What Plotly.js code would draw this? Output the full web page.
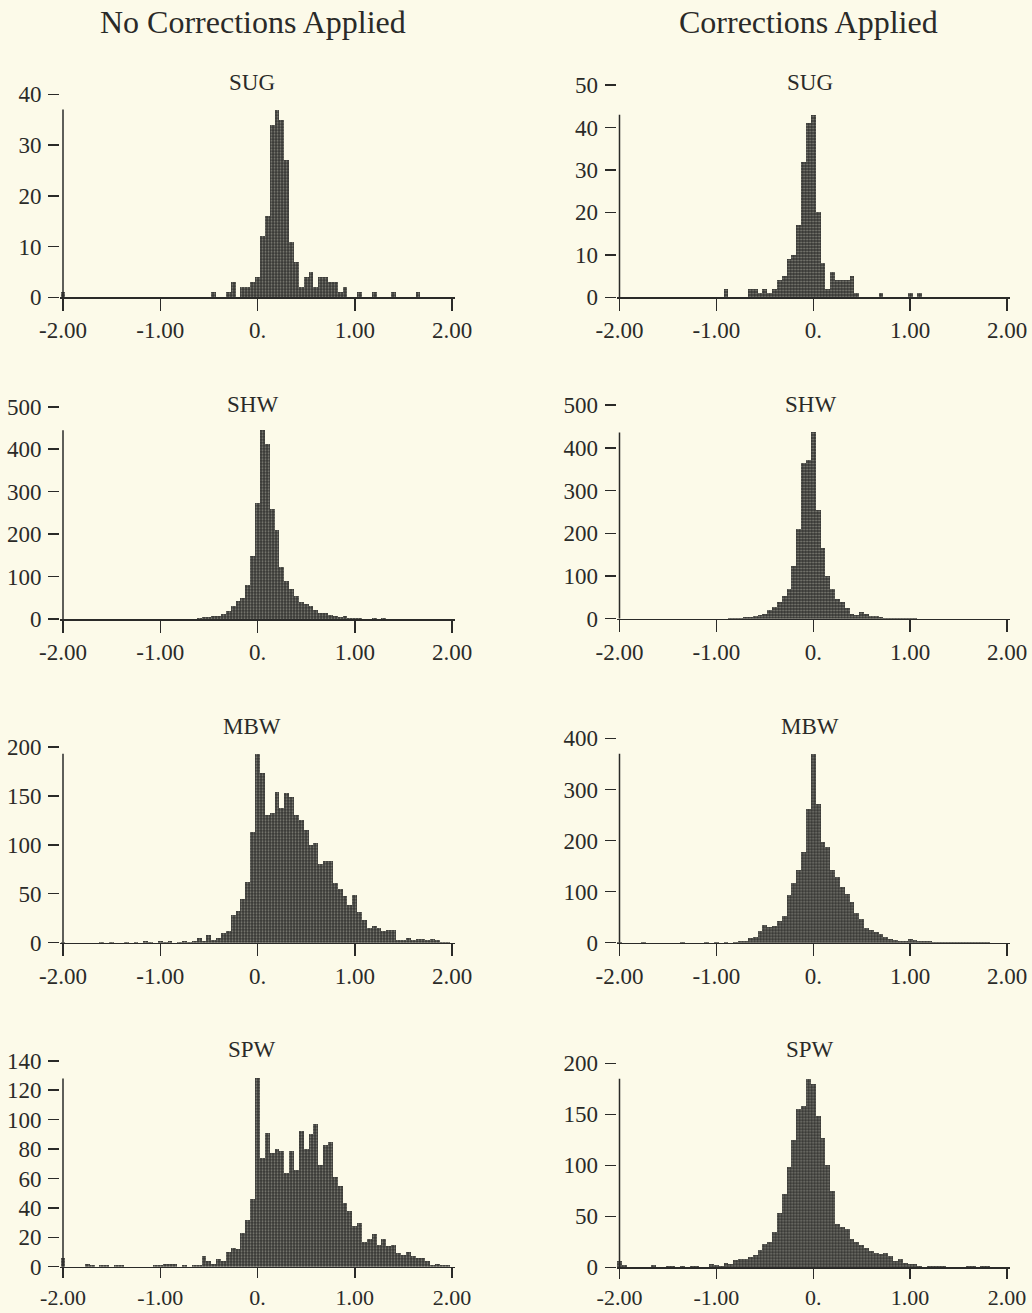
<!DOCTYPE html>
<html><head><meta charset="utf-8">
<script src="https://cdn.plot.ly/plotly-3.0.1.min.js"></script>
<style>html,body{margin:0;padding:0;background:#fcfae9;} #chart{width:1032px;height:1313px;}</style>
</head><body><div id="chart"></div>
<script>
// Bin centres (width 0.05) from -2.00 to 2.00
const binCenters = [
-2.00,-1.95,-1.90,-1.85,-1.80,-1.75,-1.70,-1.65,-1.60,-1.55,
-1.50,-1.45,-1.40,-1.35,-1.30,-1.25,-1.20,-1.15,-1.10,-1.05,
-1.00,-0.95,-0.90,-0.85,-0.80,-0.75,-0.70,-0.65,-0.60,-0.55,
-0.50,-0.45,-0.40,-0.35,-0.30,-0.25,-0.20,-0.15,-0.10,-0.05,
0.00,0.05,0.10,0.15,0.20,0.25,0.30,0.35,0.40,0.45,
0.50,0.55,0.60,0.65,0.70,0.75,0.80,0.85,0.90,0.95,
1.00,1.05,1.10,1.15,1.20,1.25,1.30,1.35,1.40,1.45,
1.50,1.55,1.60,1.65,1.70,1.75,1.80,1.85,1.90,1.95,
2.00];

const xTickVals = [-2, -1, 0, 1, 2];
const xTickText = ['-2.00', '-1.00', '0.', '1.00', '2.00'];
const columnTitles = ['No Corrections Applied', 'Corrections Applied'];
const stationNames = ['SUG', 'SHW', 'MBW', 'SPW'];

const sugNo = [
1,0,0,0,0,0,0,0,0,0,
0,0,0,0,0,0,0,0,0,0,
0,0,0,0,0,0,0,0,0,0,
0,1,0,0,1,3,0,2,2,3,
4,12,16,34,37,35,27,11,7,2,
4,5,2,4,4,3,3,1,2,0,
0,1,0,0,1,0,0,0,1,0,
0,0,0,1,0,0,0,0,0,0,
0];
const sugCor = [
0,0,0,0,0,0,0,0,0,0,
0,0,0,0,0,0,0,0,0,0,
0,0,2,0,0,0,0,2,2,1,
2,1,2,4,5,9,10,17,32,41,
43,20,8,2,6,4,4,4,5,1,
0,0,0,0,1,0,0,0,0,0,
1,0,1,0,0,0,0,0,0,0,
0,0,0,0,0,0,0,0,0,0,
0];
const shwNo = [
0,0,0,0,0,0,0,0,0,0,
0,0,0,0,0,0,0,0,0,0,
0,0,0,0,0,0,0,1,2,4,
5,6,8,12,20,30,43,50,80,149,
273,445,412,260,210,122,90,70,55,40,
36,30,22,15,14,10,7,5,6,3,
2,2,1,1,2,1,2,1,1,0,
0,0,0,0,0,0,0,0,0,0,
0];
const shwCor = [
0,0,0,0,0,0,0,0,0,0,
0,0,0,0,0,0,0,0,0,0,
0,0,0,1,2,2,3,5,7,9,
12,20,28,40,52,70,123,210,364,371,
436,255,166,101,70,47,39,25,12,8,
15,12,6,6,3,2,1,1,2,2,
1,1,0,0,0,0,0,0,0,0,
0,0,0,0,0,0,0,0,0,0,
0];
const mbwNo = [
1,0,0,0,0,0,0,0,1,0,
1,0,0,1,0,1,0,2,1,0,
2,1,2,0,1,2,1,2,5,2,
8,3,5,10,12,28,32,45,62,113,
193,173,130,132,154,138,153,149,130,125,
115,100,102,80,83,83,61,55,48,39,
49,31,23,15,17,15,12,13,13,3,
3,5,3,4,4,3,4,3,1,1,
0];
const mbwCor = [
2,0,0,0,0,1,0,0,0,0,
0,0,0,1,0,0,0,0,1,0,
1,0,2,0,2,4,3,10,12,23,
34,30,33,42,53,93,117,143,177,262,
370,271,198,188,142,129,110,95,80,58,
47,28,24,20,17,12,8,5,4,4,
7,5,3,4,3,2,2,2,1,1,
1,1,1,1,1,2,1,0,0,0,
0];
const spwNo = [
6,0,0,0,0,2,1,0,1,1,
0,1,1,0,0,0,0,0,0,1,
1,2,2,2,0,1,0,1,1,7,
4,2,5,4,10,13,12,23,32,46,
128,74,91,77,80,79,64,79,66,92,
80,90,97,69,83,85,61,55,43,38,
28,30,17,19,22,15,19,14,15,9,
8,10,7,6,6,4,1,2,1,1,
0];
const spwCor = [
6,2,0,0,0,0,0,2,0,0,
1,1,0,1,0,1,1,0,0,3,
2,1,4,3,7,8,8,10,12,17,
23,25,35,53,72,98,125,155,158,185,
180,148,127,100,75,42,40,38,28,25,
22,19,16,14,13,14,11,6,8,4,
3,3,1,0,1,1,1,1,0,0,
0,0,1,1,0,1,1,0,0,0,
0];

// y-axis top tick and step per panel
const yTops  = [40, 50, 500, 500, 200, 400, 140, 200];
const ySteps = [10, 10, 100, 100, 50, 100, 20, 50];

const W = 1032, H = 1313;
const colPx = [{a:63, b:452, title:253, name:252}, {a:619.5, b:1007, title:808, name:810}];
const rowPx = [
  [{zero:297.3, top:94.3}, {zero:297.3, top:85}],
  [{zero:619, top:406.7}, {zero:618.7, top:405}],
  [{zero:942.7, top:746.7}, {zero:942.7, top:738.3}],
  [{zero:1266.7, top:1060.7}, {zero:1267.3, top:1063.3}]
];
const namePy = [82, 404, 726, 1049];

const panelData = [sugNo, sugCor, shwNo, shwCor, mbwNo, mbwCor, spwNo, spwCor];

const FONT = '"Liberation Serif", "Times New Roman", serif';
const INK = '#2a2a28';
const traces = [], shapes = [], annotations = [];
const layout = {
  width: W, height: H, margin: {l:0, r:0, t:0, b:0},
  paper_bgcolor: '#fcfae9', plot_bgcolor: 'rgba(0,0,0,0)',
  showlegend: false, bargap: 0, font: {family: FONT, color: INK},
  shapes: shapes, annotations: annotations
};

const xPad = 0.03;
for (let k = 0; k < 8; k++) {
  const row = Math.floor(k / 2), col = k % 2;
  const sfx = k === 0 ? '' : String(k + 1);
  const cp = colPx[col], rp = rowPx[row][col];
  const ppu = (cp.b - cp.a) / 4;
  const xd = [(cp.a - xPad * ppu) / W, (cp.b + xPad * ppu) / W];
  const yd = [1 - rp.zero / H, 1 - rp.top / H];
  const counts = panelData[k];
  traces.push({
    type: 'bar', x: binCenters, y: counts, width: 0.05,
    xaxis: 'x' + sfx, yaxis: 'y' + sfx,
    marker: {color: '#3a3a37', line: {width: 0},
      pattern: {shape: '.', fgcolor: '#85857c', bgcolor: '#363633', size: 3, solidity: 0.3}},
    hoverinfo: 'x+y'
  });
  layout['xaxis' + sfx] = {
    domain: xd, range: [-2 - xPad, 2 + xPad], anchor: 'y' + sfx,
    tickmode: 'array', tickvals: xTickVals, ticktext: xTickText,
    ticks: 'outside', ticklen: row === 3 ? 10 : 12, tickwidth: 1.5, tickcolor: INK,
    showline: true, linecolor: INK, linewidth: 1.5,
    showgrid: false, zeroline: false, fixedrange: true,
    tickfont: {family: FONT, size: row === 3 ? 22 : 23, color: INK}, ticklabelstandoff: 0
  };
  layout['yaxis' + sfx] = {
    domain: yd, range: [0, yTops[k] * 1.0005], anchor: 'x' + sfx,
    tick0: 0, dtick: ySteps[k],
    ticks: 'outside', ticklen: 11, tickwidth: 1.5, tickcolor: INK,
    showline: false, showgrid: false, zeroline: false, fixedrange: true,
    tickfont: {family: FONT, size: 23, color: INK}, ticklabelstandoff: 2
  };
  shapes.push({
    type: 'line', xref: 'x' + sfx, yref: 'y' + sfx,
    x0: -2, x1: -2, y0: 0, y1: Math.max(...counts),
    line: {color: INK, width: 1.5}
  });
  annotations.push({
    xref: 'paper', yref: 'paper', x: cp.name / W, y: 1 - namePy[row] / H,
    xanchor: 'center', yanchor: 'middle', showarrow: false,
    text: stationNames[row], font: {family: FONT, size: 23, color: INK}
  });
}
for (let c = 0; c < 2; c++) {
  annotations.push({
    xref: 'paper', yref: 'paper', x: colPx[c].title / W, y: 1 - 22 / H,
    xanchor: 'center', yanchor: 'middle', showarrow: false,
    text: columnTitles[c], font: {family: FONT, size: 32, color: INK}
  });
}

Plotly.newPlot('chart', traces, layout, {displayModeBar: false, staticPlot: true});
</script>
</body></html>
